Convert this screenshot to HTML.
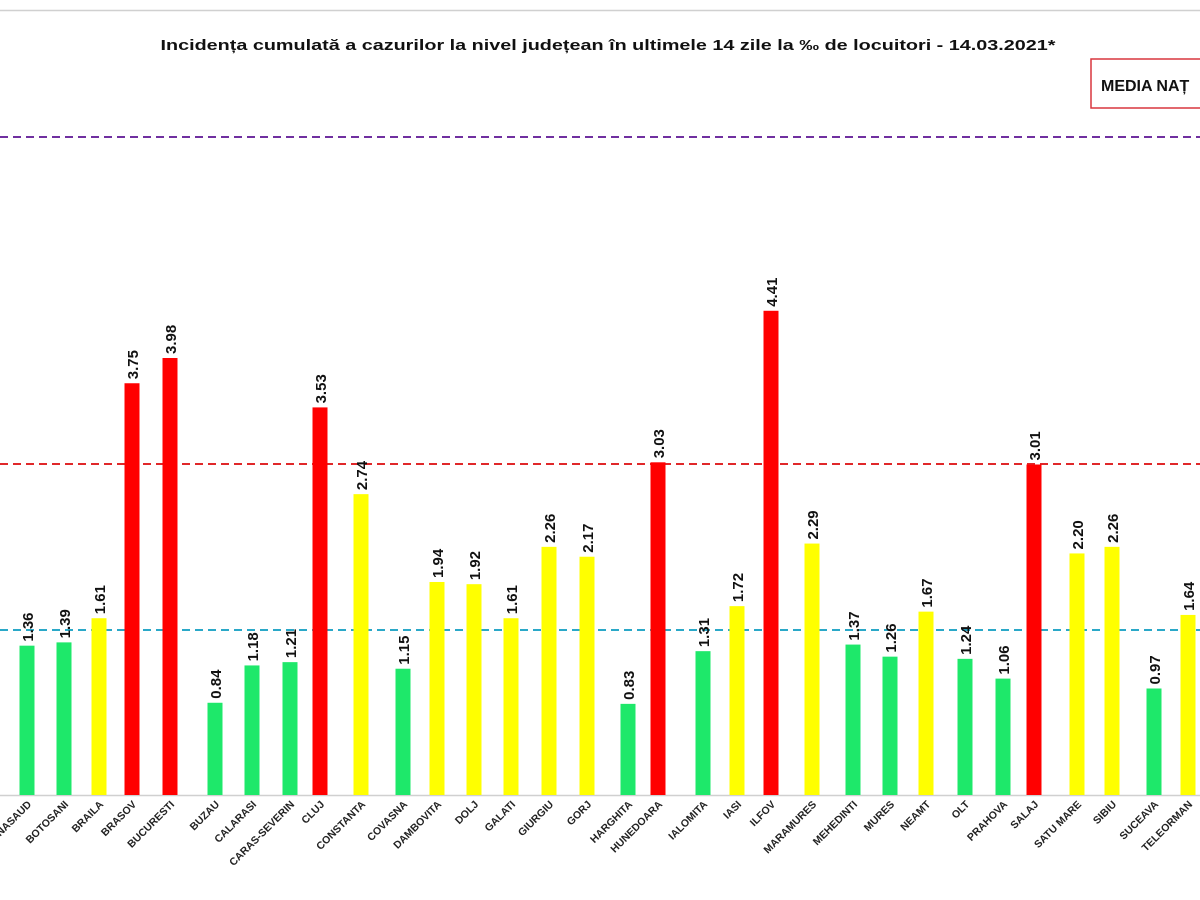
<!DOCTYPE html>
<html><head><meta charset="utf-8"><style>
html,body{margin:0;padding:0;background:#fff;}
svg{display:block;font-family:"Liberation Sans",sans-serif;}
</style></head><body>
<svg width="1200" height="900" viewBox="0 0 1200 900" xmlns="http://www.w3.org/2000/svg">
<line x1="0" y1="10.5" x2="1200" y2="10.5" stroke="#d0d0d0" stroke-width="1.5"/>
<text x="608" y="50" text-anchor="middle" font-size="15" font-weight="bold" fill="#111" textLength="895" lengthAdjust="spacingAndGlyphs">Incidența cumulată a cazurilor la nivel județean în ultimele 14 zile la ‰ de locuitori - 14.03.2021*</text>
<rect x="1091" y="59" width="115" height="49" fill="#fff" stroke="#d9363e" stroke-width="1.5"/>
<text x="1101" y="91" font-size="16" font-weight="bold" fill="#111">MEDIA NAȚ</text>
<line x1="0" y1="137" x2="1200" y2="137" stroke="#7030a0" stroke-width="2" stroke-dasharray="8,5"/>
<line x1="0" y1="464" x2="1200" y2="464" stroke="#e0282a" stroke-width="2" stroke-dasharray="8,5"/>
<line x1="0" y1="630" x2="1200" y2="630" stroke="#2aa8c8" stroke-width="2" stroke-dasharray="8,5"/>
<line x1="0" y1="795.5" x2="1200" y2="795.5" stroke="#d0d0d0" stroke-width="1.5"/>
<g id="bars"></g>
<g id="labels"></g>
</svg>
<script>
var d=[["BISTRITA-NASAUD",27,1.36,"g"],["BOTOSANI",64,1.39,"g"],["BRAILA",99,1.61,"y"],["BRASOV",132,3.75,"r"],["BUCURESTI",170,3.98,"r"],["BUZAU",215,0.84,"g"],["CALARASI",252,1.18,"g"],["CARAS-SEVERIN",290,1.21,"g"],["CLUJ",320,3.53,"r"],["CONSTANTA",361,2.74,"y"],["COVASNA",403,1.15,"g"],["DAMBOVITA",437,1.94,"y"],["DOLJ",474,1.92,"y"],["GALATI",511,1.61,"y"],["GIURGIU",549,2.26,"y"],["GORJ",587,2.17,"y"],["HARGHITA",628,0.83,"g"],["HUNEDOARA",658,3.03,"r"],["IALOMITA",703,1.31,"g"],["IASI",737,1.72,"y"],["ILFOV",771,4.41,"r"],["MARAMURES",812,2.29,"y"],["MEHEDINTI",853,1.37,"g"],["MURES",890,1.26,"g"],["NEAMT",926,1.67,"y"],["OLT",965,1.24,"g"],["PRAHOVA",1003,1.06,"g"],["SALAJ",1034,3.01,"r"],["SATU MARE",1077,2.20,"y"],["SIBIU",1112,2.26,"y"],["SUCEAVA",1154,0.97,"g"],["TELEORMAN",1188,1.64,"y"]];
var col={g:"#1ee86a",y:"#ffff00",r:"#ff0000"};
var ns="http://www.w3.org/2000/svg",b=document.getElementById("bars"),l=document.getElementById("labels");
d.forEach(function(e){
 var h=e[2]*109.8,top=795-h;
 var r=document.createElementNS(ns,"rect");
 r.setAttribute("x",e[1]-7.5);r.setAttribute("y",top);r.setAttribute("width",15);r.setAttribute("height",h);r.setAttribute("fill",col[e[3]]);
 b.appendChild(r);
 var t=document.createElementNS(ns,"text");
 t.setAttribute("transform","translate("+(e[1]+6)+","+(top-4)+") rotate(-90)");
 t.setAttribute("font-size","15");t.setAttribute("font-weight","bold");t.setAttribute("fill","#111");
 t.textContent=e[2].toFixed(2);b.appendChild(t);
 var n=document.createElementNS(ns,"text");
 n.setAttribute("transform","translate("+(e[1]+5)+",805) rotate(-45)");
 n.setAttribute("text-anchor","end");n.setAttribute("font-size","10.5");n.setAttribute("font-weight","bold");n.setAttribute("fill","#222");
 n.textContent=e[0];l.appendChild(n);
});
</script>
</body></html>
